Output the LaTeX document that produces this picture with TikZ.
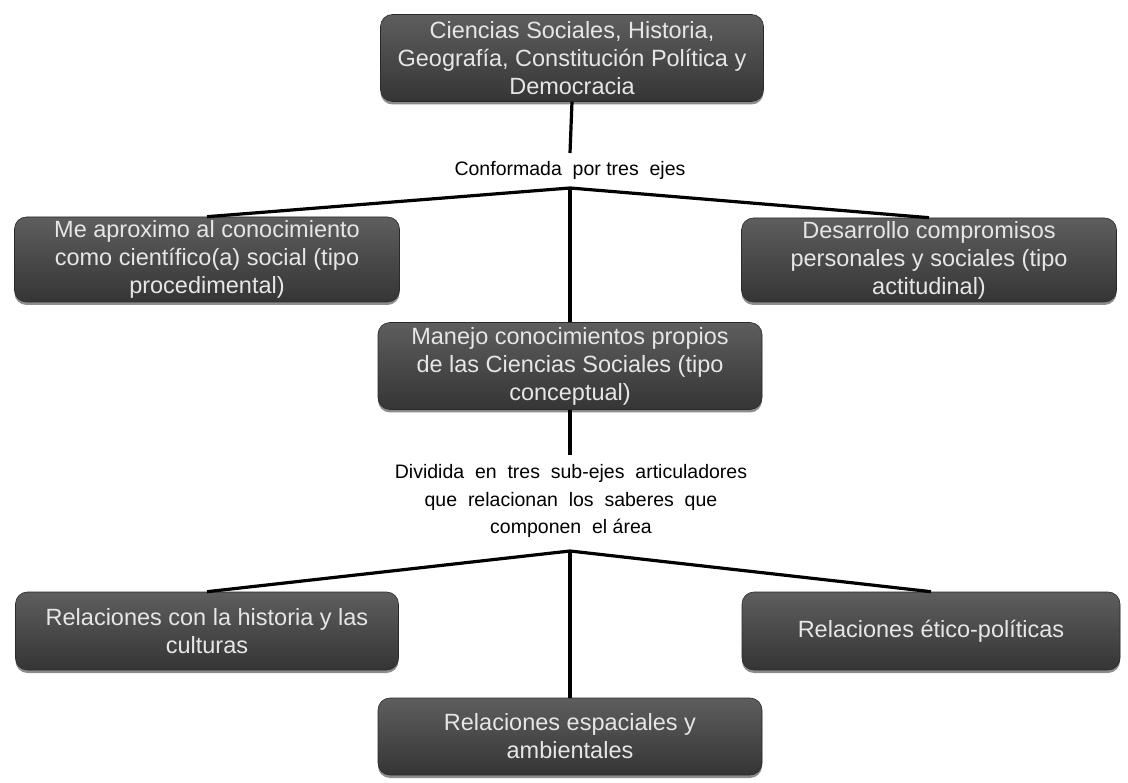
\documentclass[tikz,border=0pt]{standalone}
\usepackage{fontspec}
\setmainfont{Liberation Sans}
\usetikzlibrary{shadows}
\definecolor{boxtop}{HTML}{5E5E5E}
\definecolor{boxbot}{HTML}{353535}
\definecolor{boxtxt}{HTML}{E6E6E6}
\begin{document}
\begin{tikzpicture}[x=1pt,y=-1pt,
  cbox/.style={rounded corners=12pt, inner sep=0pt, align=center,
    top color=boxtop, bottom color=boxbot, middle color=boxbot!90!white,
    draw=boxbot!80!black, line width=0.6pt,
    text=boxtxt, font=\fontsize{23.5}{28}\selectfont,
    drop shadow={shadow xshift=0pt, shadow yshift=-3pt, opacity=0.45, fill=black}},
  lab/.style={font=\fontsize{19.5}{27.5}\selectfont, align=center, inner sep=0pt, text=black},
  conn/.style={line width=3.2pt, black}]
\useasboundingbox (0,0) rectangle (1128,783);
\fill[white] (0,0) rectangle (1128,783);

\node[cbox, minimum width=383pt, minimum height=87pt] (top) at (572,58)
  {Ciencias Sociales, Historia,\\Geografía, Constitución Política y\\Democracia};
\node[cbox, minimum width=385pt, minimum height=85pt] (left) at (207,259.5)
  {Me aproximo al conocimiento\\como científico(a) social (tipo\\procedimental)};
\node[cbox, minimum width=375pt, minimum height=84pt] (right) at (929,260)
  {Desarrollo compromisos\\personales y sociales (tipo\\actitudinal)};
\node[cbox, minimum width=384pt, minimum height=87pt] (mid) at (570,366)
  {Manejo conocimientos propios\\de las Ciencias Sociales (tipo\\conceptual)};
\node[cbox, minimum width=383pt, minimum height=78pt] (bl) at (207,631)
  {Relaciones con la historia y las\\culturas};
\node[cbox, minimum width=378pt, minimum height=78pt] (br) at (931,631)
  {Relaciones ético-políticas};
\node[cbox, minimum width=384pt, minimum height=77pt] (bm) at (570,736.5)
  {Relaciones espaciales y\\ambientales};

\node[lab] (lab1) at (570,170) {Conformada\ \ por tres\ \ ejes};
\node[lab] (lab2) at (571,501) {Dividida\ \ en\ \ tres\ \ sub-ejes\ \ articuladores\\que\ \ relacionan\ \ los\ \ saberes\ \ que\\componen\ \ el área};

\coordinate (j1) at (570,188);
\coordinate (j2) at (570,551);
\coordinate (s1) at (570,153);
\coordinate (s2) at (570,455);

\draw[conn] (top.south) -- (s1);
\draw[conn] (j1) -- (left.north);
\draw[conn] (j1) -- (right.north);
\draw[conn] (j1) -- (mid.north);
\draw[conn] (mid.south) -- (s2);
\draw[conn] (j2) -- (bl.north);
\draw[conn] (j2) -- (br.north);
\draw[conn] (j2) -- (bm.north);
\end{tikzpicture}
\end{document}
